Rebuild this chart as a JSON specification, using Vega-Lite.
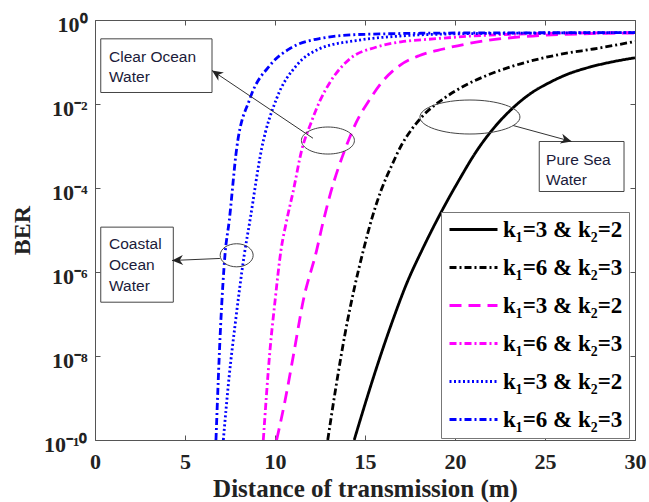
{
  "$schema": "https://vega.github.io/schema/vega-lite/v6.json",
  "width": 540,
  "height": 420,
  "autosize": "none",
  "padding": {"left": 95, "top": 20, "right": 14, "bottom": 62},
  "background": "white",
  "config": {
    "view": {"stroke": "#555555", "strokeWidth": 1},
    "font": "Liberation Serif"
  },
  "datasets": {
    "curves": [
      {"s": "A", "x": 14.4, "y": 1e-10}, {"s": "A", "x": 15.0, "y": 7.08e-10}, {"s": "A", "x": 15.55, "y": 3.98e-9}, {"s": "A", "x": 16.5, "y": 6.31e-8}, {"s": "A", "x": 17.31, "y": 5.25e-7}, {"s": "A", "x": 18.2, "y": 3.55e-6}, {"s": "A", "x": 19.2, "y": 2.51e-5}, {"s": "A", "x": 20.2, "y": 1.48e-4}, {"s": "A", "x": 21.2, "y": 7.59e-4}, {"s": "A", "x": 22.2, "y": 2.82e-3}, {"s": "A", "x": 23.2, "y": 7.94e-3}, {"s": "A", "x": 24.2, "y": 0.0178}, {"s": "A", "x": 25.2, "y": 0.0316}, {"s": "A", "x": 26.2, "y": 0.0501}, {"s": "A", "x": 27.5, "y": 0.0759}, {"s": "A", "x": 28.8, "y": 0.102}, {"s": "A", "x": 30, "y": 0.126},
      {"s": "B", "x": 12.93, "y": 1e-10}, {"s": "B", "x": 13.4, "y": 2.0e-9}, {"s": "B", "x": 13.9, "y": 3.55e-8}, {"s": "B", "x": 14.4, "y": 3.98e-7}, {"s": "B", "x": 14.9, "y": 3.16e-6}, {"s": "B", "x": 15.4, "y": 2.0e-5}, {"s": "B", "x": 15.9, "y": 8.91e-5}, {"s": "B", "x": 16.5, "y": 3.55e-4}, {"s": "B", "x": 17.0, "y": 1.0e-3}, {"s": "B", "x": 17.6, "y": 2.51e-3}, {"s": "B", "x": 18.24, "y": 5.37e-3}, {"s": "B", "x": 19.35, "y": 0.0132}, {"s": "B", "x": 20.5, "y": 0.0269}, {"s": "B", "x": 21.76, "y": 0.0479}, {"s": "B", "x": 23.2, "y": 0.0794}, {"s": "B", "x": 24.72, "y": 0.12}, {"s": "B", "x": 26.2, "y": 0.162}, {"s": "B", "x": 27.7, "y": 0.204}, {"s": "B", "x": 30, "y": 0.309},
      {"s": "C", "x": 10.09, "y": 1e-10}, {"s": "C", "x": 10.56, "y": 8.71e-10}, {"s": "C", "x": 11.07, "y": 1.35e-8}, {"s": "C", "x": 11.57, "y": 2.09e-7}, {"s": "C", "x": 12.31, "y": 3.24e-6}, {"s": "C", "x": 12.65, "y": 1.41e-5}, {"s": "C", "x": 13.1, "y": 7.94e-5}, {"s": "C", "x": 13.9, "y": 8.51e-4}, {"s": "C", "x": 14.5, "y": 3.55e-3}, {"s": "C", "x": 15.28, "y": 0.0132}, {"s": "C", "x": 16.0, "y": 0.0355}, {"s": "C", "x": 16.94, "y": 0.0832}, {"s": "C", "x": 18.0, "y": 0.141}, {"s": "C", "x": 19.35, "y": 0.204}, {"s": "C", "x": 21.76, "y": 0.324}, {"s": "C", "x": 24, "y": 0.407}, {"s": "C", "x": 27, "y": 0.468}, {"s": "C", "x": 30, "y": 0.49},
      {"s": "D", "x": 9.35, "y": 1e-10}, {"s": "D", "x": 9.72, "y": 1.35e-8}, {"s": "D", "x": 10.0, "y": 2.0e-7}, {"s": "D", "x": 10.33, "y": 3.24e-6}, {"s": "D", "x": 10.65, "y": 1.7e-5}, {"s": "D", "x": 11.0, "y": 7.94e-5}, {"s": "D", "x": 11.5, "y": 8.51e-4}, {"s": "D", "x": 12.0, "y": 3.55e-3}, {"s": "D", "x": 12.5, "y": 0.012}, {"s": "D", "x": 13.06, "y": 0.0331}, {"s": "D", "x": 14.17, "y": 0.12}, {"s": "D", "x": 15.6, "y": 0.224}, {"s": "D", "x": 17, "y": 0.302}, {"s": "D", "x": 18.8, "y": 0.355}, {"s": "D", "x": 21, "y": 0.417}, {"s": "D", "x": 25, "y": 0.479}, {"s": "D", "x": 30, "y": 0.5},
      {"s": "E", "x": 7.13, "y": 1e-10}, {"s": "E", "x": 7.45, "y": 3.16e-9}, {"s": "E", "x": 7.78, "y": 5.37e-8}, {"s": "E", "x": 8.29, "y": 2.51e-6}, {"s": "E", "x": 8.61, "y": 1.7e-5}, {"s": "E", "x": 9.26, "y": 8.71e-4}, {"s": "E", "x": 10.09, "y": 0.0135}, {"s": "E", "x": 11.2, "y": 0.0832}, {"s": "E", "x": 12.5, "y": 0.209}, {"s": "E", "x": 14.5, "y": 0.324}, {"s": "E", "x": 17, "y": 0.417}, {"s": "E", "x": 20, "y": 0.468}, {"s": "E", "x": 25, "y": 0.49}, {"s": "E", "x": 30, "y": 0.5},
      {"s": "F", "x": 6.72, "y": 1e-10}, {"s": "F", "x": 6.98, "y": 5.37e-8}, {"s": "F", "x": 7.22, "y": 2.51e-6}, {"s": "F", "x": 7.46, "y": 1.7e-5}, {"s": "F", "x": 7.87, "y": 8.71e-4}, {"s": "F", "x": 8.61, "y": 0.0135}, {"s": "F", "x": 9.72, "y": 0.0832}, {"s": "F", "x": 10.83, "y": 0.209}, {"s": "F", "x": 12.5, "y": 0.363}, {"s": "F", "x": 15, "y": 0.457}, {"s": "F", "x": 20, "y": 0.49}, {"s": "F", "x": 30, "y": 0.5}
    ],
    "boxes": [
      {"x": 0.32, "x2": 6.5, "y": 0.0188, "y2": 0.356},
      {"x": 0.32, "x2": 4.35, "y": 1.91e-7, "y2": 1.17e-5},
      {"x": 24.68, "x2": 29.39, "y": 8.26e-5, "y2": 1.28e-3}
    ],
    "texts": [
      {"t": "Clear Ocean", "x": 0.78, "y": 0.135},
      {"t": "Water", "x": 0.78, "y": 0.0428},
      {"t": "Coastal", "x": 0.78, "y": 4.69e-6},
      {"t": "Ocean", "x": 0.78, "y": 1.43e-6},
      {"t": "Water", "x": 0.78, "y": 4.77e-7},
      {"t": "Pure Sea", "x": 25.06, "y": 4.77e-4},
      {"t": "Water", "x": 25.06, "y": 1.59e-4}
    ],
    "arrows": [
      {"a": "clear", "x": 12.11, "y": 1.53e-3, "x2": 6.5, "y2": 0.0628},
      {"a": "coastal", "x": 6.94, "y": 2.1e-6, "x2": 4.28, "y2": 1.88e-6},
      {"a": "pure", "x": 23.22, "y": 3.08e-3, "x2": 26.48, "y2": 1.28e-3}
    ]
  },
  "layer": [
    {
      "data": {"name": "boxes"},
      "mark": {"type": "rect", "fill": "white", "stroke": "#444444", "strokeWidth": 1},
      "encoding": {
        "x": {"field": "x", "type": "quantitative", "scale": {"domain": [0, 30], "nice": false, "zero": false}, "axis": null},
        "x2": {"field": "x2"},
        "y": {"field": "y", "type": "quantitative", "scale": {"type": "log", "domain": [1e-10, 1], "nice": false}, "axis": null},
        "y2": {"field": "y2"}
      }
    },
    {
      "data": {"name": "curves"},
      "mark": {"type": "line", "strokeWidth": 2.8, "interpolate": "monotone", "clip": true},
      "encoding": {
        "x": {"field": "x", "type": "quantitative",
          "axis": {"title": "Distance of transmission (m)", "values": [0, 5, 10, 15, 20, 25, 30], "grid": false, "domain": false, "labelFlush": false,
            "labelFont": "Liberation Serif", "labelFontWeight": "bold", "labelFontSize": 22, "labelColor": "#222222", "labelPadding": 16,
            "tickColor": "#555555", "tickSize": -5,
            "titleFont": "Liberation Serif", "titleFontWeight": "bold", "titleFontSize": 25, "titleColor": "#222222",
            "titleX": 270, "titleY": 48, "titleBaseline": "middle", "titleAlign": "center"}},
        "y": {"field": "y", "type": "quantitative",
          "axis": {"title": "BER", "values": [1e-10, 1e-8, 1e-6, 1e-4, 1e-2, 1], "grid": false, "domain": false, "labelFlush": false,
            "labelExpr": "'10' + ['⁰','⁻¹','⁻²','⁻³','⁻⁴','⁻⁵','⁻⁶','⁻⁷','⁻⁸','⁻⁹','⁻¹⁰'][round(-log(datum.value)/LN10)]",
            "labelFont": "Liberation Serif", "labelFontWeight": "bold", "labelFontSize": 22, "labelColor": "#222222", "labelPadding": 13, "labelOffset": 4,
            "tickColor": "#555555", "tickSize": -5,
            "titleFont": "Liberation Serif", "titleFontWeight": "bold", "titleFontSize": 24, "titleColor": "#222222",
            "titleX": -73, "titleY": 210, "titleAngle": 270, "titleBaseline": "middle", "titleAlign": "center"}},
        "color": {"field": "s", "type": "nominal",
          "scale": {"domain": ["A", "B", "C", "D", "E", "F"], "range": ["#000000", "#000000", "#ff00ff", "#ff00ff", "#0000ff", "#0000ff"]},
          "legend": {"title": null, "orient": "none", "legendX": 346, "legendY": 192, "strokeColor": "#777777", "fillColor": "white", "padding": 6,
            "labelExpr": "indexof('ABCDEF', datum.label) % 2 == 0 ? 'k₁=3 & k₂=2' : 'k₁=6 & k₂=3'",
            "labelFont": "Liberation Serif", "labelFontWeight": "bold", "labelFontSize": 23, "labelColor": "#000000",
            "symbolType": "M-4,0H4", "symbolSize": 144, "symbolStrokeWidth": 3, "symbolOffset": 15, "labelOffset": 18, "rowPadding": 14}},
        "strokeDash": {"field": "s", "type": "nominal",
          "scale": {"domain": ["A", "B", "C", "D", "E", "F"], "range": [[1, 0], [7, 3, 2, 3], [12, 7], [7, 3, 2, 3], [2, 2.5], [7, 3, 2, 3]]},
          "legend": {"title": null, "orient": "none", "legendX": 346, "legendY": 192, "strokeColor": "#777777", "fillColor": "white", "padding": 6,
            "labelExpr": "indexof('ABCDEF', datum.label) % 2 == 0 ? 'k₁=3 & k₂=2' : 'k₁=6 & k₂=3'",
            "labelFont": "Liberation Serif", "labelFontWeight": "bold", "labelFontSize": 23, "labelColor": "#000000",
            "symbolType": "M-4,0H4", "symbolSize": 144, "symbolStrokeWidth": 3, "symbolOffset": 15, "labelOffset": 18, "rowPadding": 14}}
      }
    },
    {
      "data": {"name": "boxes"},
      "mark": {"type": "point", "opacity": 0},
      "encoding": {
        "x": {"field": "x", "type": "quantitative", "axis": {"orient": "top", "title": null, "labels": false, "values": [0, 5, 10, 15, 20, 25, 30], "domain": false, "grid": false, "tickColor": "#555555", "tickSize": -5}},
        "y": {"field": "y", "type": "quantitative", "axis": {"orient": "right", "title": null, "labels": false, "values": [1e-10, 1e-8, 1e-6, 1e-4, 1e-2, 1], "domain": false, "grid": false, "tickColor": "#555555", "tickSize": -5}}
      }
    },
    {
      "data": {"name": "texts"},
      "mark": {"type": "text", "align": "left", "baseline": "middle", "font": "Liberation Sans", "fontSize": 15.5, "color": "#1b1b3a"},
      "encoding": {
        "x": {"field": "x", "type": "quantitative", "axis": null},
        "y": {"field": "y", "type": "quantitative", "axis": null},
        "text": {"field": "t"}
      }
    },
    {
      "data": {"name": "arrows"},
      "mark": {"type": "rule", "color": "#333333", "strokeWidth": 1},
      "encoding": {
        "x": {"field": "x", "type": "quantitative", "axis": null},
        "y": {"field": "y", "type": "quantitative", "axis": null},
        "x2": {"field": "x2"},
        "y2": {"field": "y2"}
      }
    },
    {
      "data": {"name": "arrows"},
      "transform": [{"filter": "datum.a == 'clear'"}],
      "mark": {"type": "point", "shape": "M0,0L-0.45,1L0,0.7L0.45,1Z", "size": 484, "filled": true, "color": "#222222", "opacity": 1, "angle": 303.8},
      "encoding": {
        "x": {"field": "x2", "type": "quantitative", "axis": null},
        "y": {"field": "y2", "type": "quantitative", "axis": null}
      }
    },
    {
      "data": {"name": "arrows"},
      "transform": [{"filter": "datum.a == 'coastal'"}],
      "mark": {"type": "point", "shape": "M0,0L-0.45,1L0,0.7L0.45,1Z", "size": 484, "filled": true, "color": "#222222", "opacity": 1, "angle": 267.6},
      "encoding": {
        "x": {"field": "x2", "type": "quantitative", "axis": null},
        "y": {"field": "y2", "type": "quantitative", "axis": null}
      }
    },
    {
      "data": {"name": "arrows"},
      "transform": [{"filter": "datum.a == 'pure'"}],
      "mark": {"type": "point", "shape": "M0,0L-0.45,1L0,0.7L0.45,1Z", "size": 484, "filled": true, "color": "#222222", "opacity": 1, "angle": 105.2},
      "encoding": {
        "x": {"field": "x2", "type": "quantitative", "axis": null},
        "y": {"field": "y2", "type": "quantitative", "axis": null}
      }
    },
    {
      "data": {"values": [{"x": 12.94, "y": 1.35e-3}]},
      "mark": {"type": "point", "shape": "M-1,0A1,0.51 0 1,1 1,0A1,0.51 0 1,1 -1,0", "size": 2809, "filled": false, "color": "#444444", "strokeWidth": 1, "opacity": 1},
      "encoding": {
        "x": {"field": "x", "type": "quantitative", "axis": null},
        "y": {"field": "y", "type": "quantitative", "axis": null}
      }
    },
    {
      "data": {"values": [{"x": 20.83, "y": 4.9e-3}]},
      "mark": {"type": "point", "shape": "M-1,0A1,0.34 0 1,1 1,0A1,0.34 0 1,1 -1,0", "size": 10000, "filled": false, "color": "#444444", "strokeWidth": 1, "opacity": 1},
      "encoding": {
        "x": {"field": "x", "type": "quantitative", "axis": null},
        "y": {"field": "y", "type": "quantitative", "axis": null}
      }
    },
    {
      "data": {"values": [{"x": 7.87, "y": 2.5e-6}]},
      "mark": {"type": "point", "shape": "M-1,0A1,0.7 0 1,1 1,0A1,0.7 0 1,1 -1,0", "size": 1089, "filled": false, "color": "#444444", "strokeWidth": 1, "opacity": 1},
      "encoding": {
        "x": {"field": "x", "type": "quantitative", "axis": null},
        "y": {"field": "y", "type": "quantitative", "axis": null}
      }
    }
  ],
  "resolve": {"axis": {"x": "independent", "y": "independent"}}
}
